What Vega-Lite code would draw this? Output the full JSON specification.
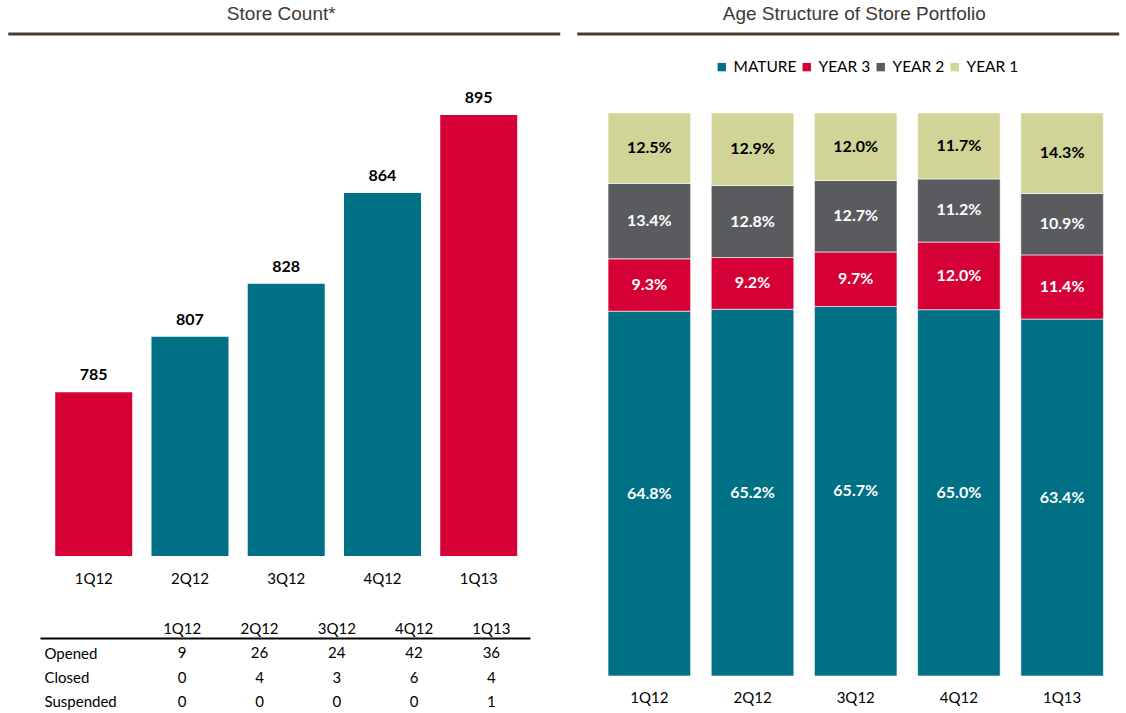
{
  "$schema": "https://vega.github.io/schema/vega-lite/v6.json",
  "padding": {"left": 6, "top": 4, "right": 0, "bottom": 0},
  "background": "white",
  "config": {
    "view": {"stroke": null},
    "font": "Lato",
    "title": {"font": "Liberation Sans", "fontSize": 19, "fontWeight": "normal", "color": "#3f3935", "offset": 9, "anchor": "middle"},
    "axis": {"labelFont": "Lato", "labelColor": "#000000", "labelFontSize": 15, "domain": false, "ticks": false, "grid": false, "title": null},
    "legend": {"labelFont": "Lato", "labelFontSize": 15.5, "labelColor": "#000000", "symbolType": "square", "symbolSize": 70, "symbolStrokeWidth": 0, "columnPadding": 2, "labelOffset": 4}
  },
  "resolve": {"scale": {"color": "independent"}},
  "spacing": 13,
  "hconcat": [
    {
      "center": true,
      "spacing": 35,
      "vconcat": [
        {
          "spacing": 1,
          "vconcat": [
            {
              "width": 552,
              "height": 17,
              "title": {"text": "Store Count*", "dx": -3},
              "data": {"values": [{}]},
              "mark": {"type": "rule", "color": "#4a3b2f", "strokeWidth": 3},
              "encoding": {
                "x": {"datum": 0, "type": "quantitative", "scale": {"domain": [0, 1]}, "axis": null},
                "x2": {"datum": 1},
                "y": {"datum": 1, "type": "quantitative", "scale": {"domain": [0, 1]}, "axis": null}
              }
            },
            {
              "width": 552,
              "height": 504,
              "data": {"values": [
                {"quarter": "1Q12", "stores": 785, "group": "first quarter"},
                {"quarter": "2Q12", "stores": 807, "group": "other"},
                {"quarter": "3Q12", "stores": 828, "group": "other"},
                {"quarter": "4Q12", "stores": 864, "group": "other"},
                {"quarter": "1Q13", "stores": 895, "group": "first quarter"}
              ]},
              "encoding": {
                "x": {"field": "quarter", "type": "nominal", "sort": ["1Q12", "2Q12", "3Q12", "4Q12", "1Q13"],
                      "scale": {"paddingInner": 0.2, "paddingOuter": 0.4675, "align": 0.522},
                      "axis": {"labelAngle": 0, "labelPadding": 15}},
                "y": {"field": "stores", "type": "quantitative", "scale": {"domain": [720, 920], "zero": false}, "axis": null}
              },
              "layer": [
                {
                  "mark": {"type": "bar", "clip": true},
                  "encoding": {
                    "color": {"field": "group", "type": "nominal", "scale": {"domain": ["first quarter", "other"], "range": ["#d50036", "#007084"]}, "legend": null}
                  }
                },
                {
                  "mark": {"type": "text", "fontWeight": "bold", "fontSize": 16, "dy": -17, "baseline": "middle", "color": "#000000"},
                  "encoding": {"text": {"field": "stores", "type": "quantitative"}}
                }
              ]
            }
          ]
        },
        {
          "width": 490,
          "height": 75,
          "data": {"values": [
            {"row": "Opened", "quarter": "1Q12", "n": 9},
            {"row": "Opened", "quarter": "2Q12", "n": 26},
            {"row": "Opened", "quarter": "3Q12", "n": 24},
            {"row": "Opened", "quarter": "4Q12", "n": 42},
            {"row": "Opened", "quarter": "1Q13", "n": 36},
            {"row": "Closed", "quarter": "1Q12", "n": 0},
            {"row": "Closed", "quarter": "2Q12", "n": 4},
            {"row": "Closed", "quarter": "3Q12", "n": 3},
            {"row": "Closed", "quarter": "4Q12", "n": 6},
            {"row": "Closed", "quarter": "1Q13", "n": 4},
            {"row": "Suspended", "quarter": "1Q12", "n": 0},
            {"row": "Suspended", "quarter": "2Q12", "n": 0},
            {"row": "Suspended", "quarter": "3Q12", "n": 0},
            {"row": "Suspended", "quarter": "4Q12", "n": 0},
            {"row": "Suspended", "quarter": "1Q13", "n": 1}
          ]},
          "mark": {"type": "text", "fontSize": 15, "dy": 2, "color": "#000000"},
          "encoding": {
            "x": {"field": "quarter", "type": "nominal", "sort": ["1Q12", "2Q12", "3Q12", "4Q12", "1Q13"],
                  "scale": {"type": "band", "paddingInner": 0, "paddingOuter": 0.67, "align": 1},
                  "axis": {"orient": "top", "domain": true, "domainColor": "#000000", "domainWidth": 2, "labelPadding": 2, "labelAngle": 0}},
            "y": {"field": "row", "type": "nominal", "sort": ["Opened", "Closed", "Suspended"],
                  "scale": {"type": "point", "padding": 0.55},
                  "axis": {"labelAlign": "left", "labelPadding": -4, "labelOffset": 2}},
            "text": {"field": "n", "type": "quantitative"}
          }
        }
      ]
    },
    {
      "center": true,
      "spacing": 61,
      "vconcat": [
        {
          "width": 542,
          "height": 17,
          "title": {"text": "Age Structure of Store Portfolio", "dx": 6},
          "data": {"values": [{}]},
          "mark": {"type": "rule", "color": "#4a3b2f", "strokeWidth": 3},
          "encoding": {
            "x": {"datum": 0, "type": "quantitative", "scale": {"domain": [0, 1]}, "axis": null},
            "x2": {"datum": 1},
            "y": {"datum": 1, "type": "quantitative", "scale": {"domain": [0, 1]}, "axis": null}
          }
        },
        {
          "width": 542,
          "height": 563,
          "data": {"values": [
            {"quarter": "1Q12", "age": "MATURE", "ageYears": 4, "share": 0.648},
            {"quarter": "1Q12", "age": "YEAR 3", "ageYears": 3, "share": 0.093},
            {"quarter": "1Q12", "age": "YEAR 2", "ageYears": 2, "share": 0.134},
            {"quarter": "1Q12", "age": "YEAR 1", "ageYears": 1, "share": 0.125},
            {"quarter": "2Q12", "age": "MATURE", "ageYears": 4, "share": 0.652},
            {"quarter": "2Q12", "age": "YEAR 3", "ageYears": 3, "share": 0.092},
            {"quarter": "2Q12", "age": "YEAR 2", "ageYears": 2, "share": 0.128},
            {"quarter": "2Q12", "age": "YEAR 1", "ageYears": 1, "share": 0.129},
            {"quarter": "3Q12", "age": "MATURE", "ageYears": 4, "share": 0.657},
            {"quarter": "3Q12", "age": "YEAR 3", "ageYears": 3, "share": 0.097},
            {"quarter": "3Q12", "age": "YEAR 2", "ageYears": 2, "share": 0.127},
            {"quarter": "3Q12", "age": "YEAR 1", "ageYears": 1, "share": 0.120},
            {"quarter": "4Q12", "age": "MATURE", "ageYears": 4, "share": 0.650},
            {"quarter": "4Q12", "age": "YEAR 3", "ageYears": 3, "share": 0.120},
            {"quarter": "4Q12", "age": "YEAR 2", "ageYears": 2, "share": 0.112},
            {"quarter": "4Q12", "age": "YEAR 1", "ageYears": 1, "share": 0.117},
            {"quarter": "1Q13", "age": "MATURE", "ageYears": 4, "share": 0.634},
            {"quarter": "1Q13", "age": "YEAR 3", "ageYears": 3, "share": 0.114},
            {"quarter": "1Q13", "age": "YEAR 2", "ageYears": 2, "share": 0.109},
            {"quarter": "1Q13", "age": "YEAR 1", "ageYears": 1, "share": 0.143}
          ]},
          "encoding": {
            "x": {"field": "quarter", "type": "nominal", "sort": ["1Q12", "2Q12", "3Q12", "4Q12", "1Q13"],
                  "scale": {"paddingInner": 0.2, "paddingOuter": 0.226, "align": 0.644},
                  "axis": {"labelAngle": 0, "labelPadding": 14}},
            "order": {"field": "ageYears", "type": "quantitative", "sort": "descending"}
          },
          "layer": [
            {
              "mark": {"type": "bar", "stroke": "#ffffff", "strokeWidth": 0.6},
              "encoding": {
                "y": {"field": "share", "type": "quantitative", "stack": "normalize", "axis": null},
                "color": {"field": "age", "type": "nominal",
                          "scale": {"domain": ["MATURE", "YEAR 3", "YEAR 2", "YEAR 1"], "range": ["#007084", "#d50036", "#5a5b5f", "#d0d597"]},
                          "legend": {"title": null, "orient": "none", "direction": "horizontal", "legendX": 137, "legendY": 25}}
              }
            },
            {
              "mark": {"type": "text", "fontWeight": "bold", "fontSize": 16, "baseline": "middle"},
              "encoding": {
                "y": {"field": "share", "type": "quantitative", "stack": "normalize", "bandPosition": 0.5, "axis": null},
                "detail": {"field": "age", "type": "nominal"},
                "text": {"field": "share", "type": "quantitative", "format": ".1%"},
                "color": {"condition": {"test": "datum.age === 'YEAR 1'", "value": "#000000"}, "value": "#ffffff"}
              }
            }
          ]
        }
      ]
    }
  ]
}
